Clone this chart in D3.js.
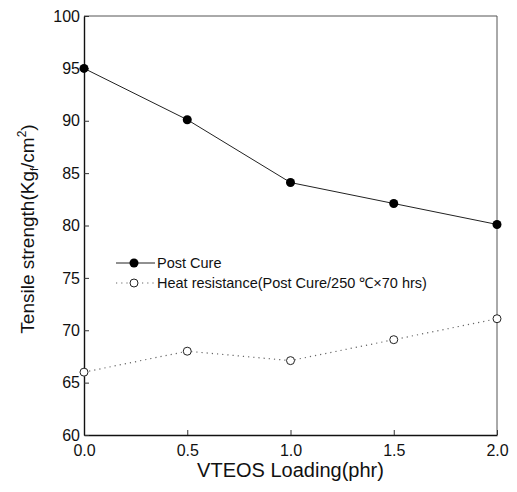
<!DOCTYPE html>
<style>
    body { margin: 0; background: #fff; }
    text { font-family: "Liberation Sans", Arial, sans-serif; fill: #111; }
</style>
<body>
<script src="https://d3js.org/d3.v7.min.js"></script>
<script>
    // data
    var loading = [0.0, 0.5, 1.0, 1.5, 2.0];
    var postCure = [95.0, 90.1, 84.1, 82.1, 80.1];
    var heatRes = [66.0, 68.0, 67.1, 69.1, 71.1];
    var xTicks = [0.0, 0.5, 1.0, 1.5, 2.0];
    var yTicks = [60, 65, 70, 75, 80, 85, 90, 95, 100];
    var seriesNames = ["Post Cure", "Heat resistance(Post Cure/250  \u2103\u00d770 hrs)"];

    var width = 517, height = 492;
    var plotL = 84, plotR = 497, plotT = 16, plotB = 435;

    var svg = d3.select("body").append("svg")
        .attr("width", width)
        .attr("height", height);

    var x = d3.scaleLinear().domain([0, 2]).range([plotL, plotR]);
    var y = d3.scaleLinear().domain([60, 100]).range([plotB, plotT]);

    // frame: top and right lighter
    svg.append("line").attr("x1", plotL).attr("x2", plotR).attr("y1", plotT).attr("y2", plotT)
        .attr("stroke", "#555").attr("stroke-width", 1);
    svg.append("line").attr("x1", plotR).attr("x2", plotR).attr("y1", plotT).attr("y2", plotB)
        .attr("stroke", "#555").attr("stroke-width", 1);

    // axes with inward ticks
    var xAxis = svg.append("g")
        .attr("transform", "translate(0," + plotB + ")")
        .call(d3.axisBottom(x).tickValues(xTicks).tickFormat(d3.format(".1f")).tickSizeInner(-5).tickSizeOuter(0).tickPadding(10));
    var yAxis = svg.append("g")
        .attr("transform", "translate(" + plotL + ",0)")
        .call(d3.axisLeft(y).tickValues(yTicks).tickFormat(d3.format("d")).tickSizeInner(-5).tickSizeOuter(0).tickPadding(4));

    [xAxis, yAxis].forEach(function(a) {
        a.select(".domain").attr("stroke", "#111").attr("stroke-width", 1.4);
        a.selectAll(".tick line").attr("stroke", "#333");
        a.selectAll(".tick text").style("font-size", "16px")
            .style("font-family", "'Liberation Sans', Arial, sans-serif").attr("fill", "#111");
    });

    // axis titles
    svg.append("text")
        .attr("x", (plotL + plotR) / 2)
        .attr("y", 477)
        .attr("text-anchor", "middle")
        .style("font-size", "20px")
        .text("VTEOS Loading(phr)");

    var yl = svg.append("text")
        .attr("transform", "translate(34,229) rotate(-90)")
        .attr("text-anchor", "middle")
        .style("font-size", "19px");
    yl.append("tspan").text("Tensile strength(Kg");
    yl.append("tspan").attr("dy", 4).style("font-size", "11px").text("f");
    yl.append("tspan").attr("dy", -4).text("/cm");
    yl.append("tspan").attr("dy", -8).style("font-size", "12px").text("2");
    yl.append("tspan").attr("dy", 8).text(")");

    var line = d3.line()
        .x(function(d, i) { return x(loading[i]); })
        .y(function(d) { return y(d); });

    // heat resistance series: dotted line, open circles
    svg.append("path")
        .datum(heatRes)
        .attr("d", line)
        .attr("fill", "none")
        .attr("stroke", "#666")
        .attr("stroke-width", 1.2)
        .attr("stroke-dasharray", "1.2,4");
    svg.selectAll(".heat")
        .data(heatRes)
        .enter().append("circle")
        .attr("class", "heat")
        .attr("cx", function(d, i) { return x(loading[i]); })
        .attr("cy", function(d) { return y(d); })
        .attr("r", 4)
        .attr("fill", "#fff")
        .attr("stroke", "#222")
        .attr("stroke-width", 1);

    // post cure series: solid line, filled circles
    svg.append("path")
        .datum(postCure)
        .attr("d", line)
        .attr("fill", "none")
        .attr("stroke", "#222")
        .attr("stroke-width", 1);
    svg.selectAll(".post")
        .data(postCure)
        .enter().append("circle")
        .attr("class", "post")
        .attr("cx", function(d, i) { return x(loading[i]); })
        .attr("cy", function(d) { return y(d); })
        .attr("r", 4.5)
        .attr("fill", "#000");

    // legend
    var legend = svg.append("g");
    var rowsY = [263, 283];
    legend.append("line").attr("x1", 116).attr("x2", 155).attr("y1", rowsY[0]).attr("y2", rowsY[0])
        .attr("stroke", "#222").attr("stroke-width", 1);
    legend.append("circle").attr("cx", 134).attr("cy", rowsY[0]).attr("r", 4.5).attr("fill", "#000");
    legend.append("line").attr("x1", 116).attr("x2", 155).attr("y1", rowsY[1]).attr("y2", rowsY[1])
        .attr("stroke", "#666").attr("stroke-width", 1.2).attr("stroke-dasharray", "1.2,4");
    legend.append("circle").attr("cx", 134).attr("cy", rowsY[1]).attr("r", 4)
        .attr("fill", "#fff").attr("stroke", "#222");
    legend.selectAll(".lt")
        .data(seriesNames)
        .enter().append("text")
        .attr("class", "lt")
        .attr("x", 157)
        .attr("y", function(d, i) { return rowsY[i]; })
        .attr("dy", "0.35em")
        .style("font-size", "14.5px")
        .text(function(d) { return d; });
</script>
</body>
